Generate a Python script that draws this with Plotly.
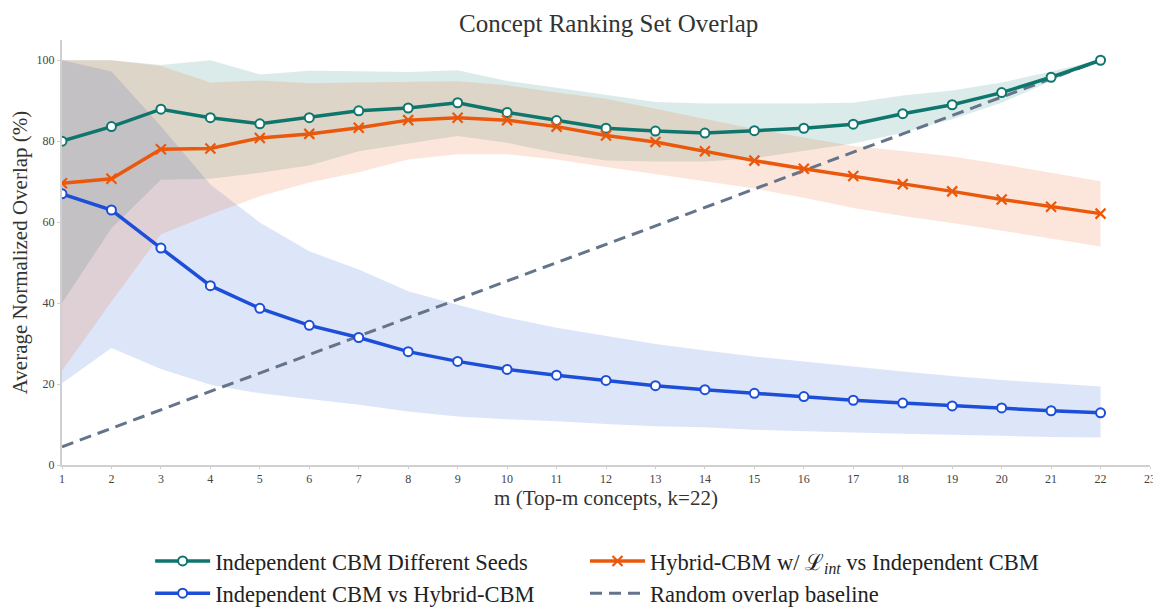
import plotly.graph_objects as go

m_values = list(range(1, 23))

seeds_mean = [80.0, 83.6, 87.9, 85.8, 84.3, 85.8, 87.5, 88.2, 89.5, 87.1, 85.1, 83.2, 82.5, 82.0, 82.6, 83.2, 84.2, 86.8, 89.0, 92.0, 95.8, 100.0]
seeds_upper = [100.0, 100.0, 98.8, 100.0, 96.5, 97.4, 97.3, 97.1, 97.5, 94.9, 93.2, 91.4, 89.7, 89.3, 89.3, 89.3, 89.5, 91.3, 92.5, 94.5, 97.2, 100.0]
seeds_lower = [40.0, 58.5, 70.5, 70.7, 72.2, 74.0, 77.5, 79.4, 81.3, 79.6, 77.1, 75.2, 75.0, 75.0, 75.8, 77.6, 79.4, 82.1, 85.4, 89.5, 94.9, 100.0]

hybrid_mean = [67.0, 63.0, 53.6, 44.3, 38.7, 34.5, 31.5, 28.0, 25.6, 23.6, 22.2, 20.9, 19.6, 18.6, 17.7, 16.9, 16.0, 15.3, 14.6, 14.1, 13.4, 12.9]
hybrid_upper = [100.0, 97.2, 83.7, 69.3, 59.9, 52.8, 48.3, 42.9, 39.6, 36.4, 33.9, 31.9, 29.9, 28.3, 26.8, 25.6, 24.3, 23.1, 22.0, 21.0, 20.2, 19.4]
hybrid_lower = [20.2, 28.9, 23.7, 19.8, 17.7, 16.3, 14.9, 13.2, 12.0, 11.3, 10.8, 10.1, 9.6, 9.3, 8.7, 8.3, 8.0, 7.7, 7.4, 7.2, 6.9, 6.8]

lint_mean = [69.6, 70.7, 78.0, 78.2, 80.8, 81.8, 83.3, 85.2, 85.8, 85.2, 83.6, 81.4, 79.8, 77.5, 75.2, 73.2, 71.4, 69.4, 67.6, 65.6, 63.8, 62.1]
lint_upper = [100.0, 100.0, 98.6, 94.5, 95.0, 94.3, 94.5, 94.7, 94.8, 93.8, 92.0, 90.5, 88.0, 85.4, 83.0, 80.9, 78.8, 77.6, 76.2, 74.3, 72.2, 70.1]
lint_lower = [23.3, 40.4, 57.0, 61.9, 66.4, 69.8, 72.3, 75.5, 76.8, 76.8, 75.5, 73.6, 71.8, 70.1, 68.3, 66.0, 63.5, 61.5, 59.8, 57.8, 55.9, 54.0]

random_baseline = [4.5, 9.1, 13.6, 18.2, 22.7, 27.3, 31.8, 36.4, 40.9, 45.5, 50.0, 54.5, 59.1, 63.6, 68.2, 72.7, 77.3, 81.8, 86.4, 90.9, 95.5, 100.0]

x_ticks = list(range(1, 24))
y_ticks = [0, 20, 40, 60, 80, 100]

TEAL = "#0f766e"
BLUE = "#1d4ed8"
ORANGE = "#ea580c"
SLATE = "#64748b"
FONT = "Liberation Serif"

fig = go.Figure()


def band(upper, lower, rgba):
    fig.add_trace(go.Scatter(
        x=m_values + m_values[::-1],
        y=upper + lower[::-1],
        fill="toself", fillcolor=rgba,
        line=dict(width=0), mode="lines",
        hoverinfo="skip", showlegend=False,
    ))


band(seeds_upper, seeds_lower, "rgba(15,118,110,0.15)")
band(hybrid_upper, hybrid_lower, "rgba(29,78,216,0.15)")
band(lint_upper, lint_lower, "rgba(234,88,12,0.15)")

fig.add_trace(go.Scatter(
    x=m_values, y=random_baseline, mode="lines",
    line=dict(color=SLATE, width=3, dash="12px,7px"),
    name="Random overlap baseline", legend="legend2", legendrank=2,
))
fig.add_trace(go.Scatter(
    x=m_values, y=seeds_mean, mode="lines+markers",
    line=dict(color=TEAL, width=3.5),
    marker=dict(symbol="circle", size=9, color="white", line=dict(color=TEAL, width=2)),
    name="Independent CBM Different Seeds", legend="legend", legendrank=1,
))
fig.add_trace(go.Scatter(
    x=m_values, y=lint_mean, mode="lines+markers",
    line=dict(color=ORANGE, width=3.5),
    marker=dict(symbol="x-thin", size=10, color=ORANGE, line=dict(color=ORANGE, width=2.2)),
    name="Hybrid-CBM w/ ℒ<sub><i>int</i></sub> vs Independent CBM", legend="legend2", legendrank=1,
))
fig.add_trace(go.Scatter(
    x=m_values, y=hybrid_mean, mode="lines+markers",
    line=dict(color=BLUE, width=3.5),
    marker=dict(symbol="circle", size=9, color="white", line=dict(color=BLUE, width=2)),
    name="Independent CBM vs Hybrid-CBM", legend="legend", legendrank=2,
))

legend_common = dict(
    orientation="v", xanchor="left", yanchor="top",
    font=dict(family=FONT, size=22.5, color="#222"),
    bgcolor="rgba(0,0,0,0)", itemwidth=55, tracegroupgap=0,
)

# The page body adds an 8px offset, so the figure is sized 8px smaller.
fig.update_layout(
    width=1153, height=599,
    paper_bgcolor="white", plot_bgcolor="white",
    margin=dict(l=54, r=11, t=32, b=142, autoexpand=False),
    font=dict(family=FONT, color="#333"),
    title=dict(text="Concept Ranking Set Overlap", x=0.521, xanchor="center",
               y=0.975, yanchor="middle", font=dict(family=FONT, size=25, color="#333")),
    xaxis=dict(range=[1, 23], tickvals=x_ticks, showgrid=False, zeroline=False,
               showline=True, linecolor="#d0d0d0", linewidth=2, automargin=False,
               ticks="outside", ticklen=2, tickcolor="#d0d0d0", ticklabeloverflow="allow",
               tickfont=dict(family=FONT, size=12, color="#444"),
               title=dict(text="m (Top-m concepts, k=22)", font=dict(family=FONT, size=21, color="#333"), standoff=0)),
    yaxis=dict(range=[0, 105], tickvals=y_ticks, showgrid=False, zeroline=False,
               showline=True, linecolor="#d0d0d0", linewidth=2, automargin=False,
               ticks="outside", ticklen=3, tickcolor="#d0d0d0",
               tickfont=dict(family=FONT, size=12, color="#444"),
               title=dict(text="Average Normalized Overlap (%)", font=dict(family=FONT, size=21, color="#333"), standoff=6)),
    legend=dict(x=0.081, y=-0.176, **legend_common),
    legend2=dict(x=0.4807, y=-0.176, **legend_common),
    hovermode=False,
)

fig.write_html("out.html")
